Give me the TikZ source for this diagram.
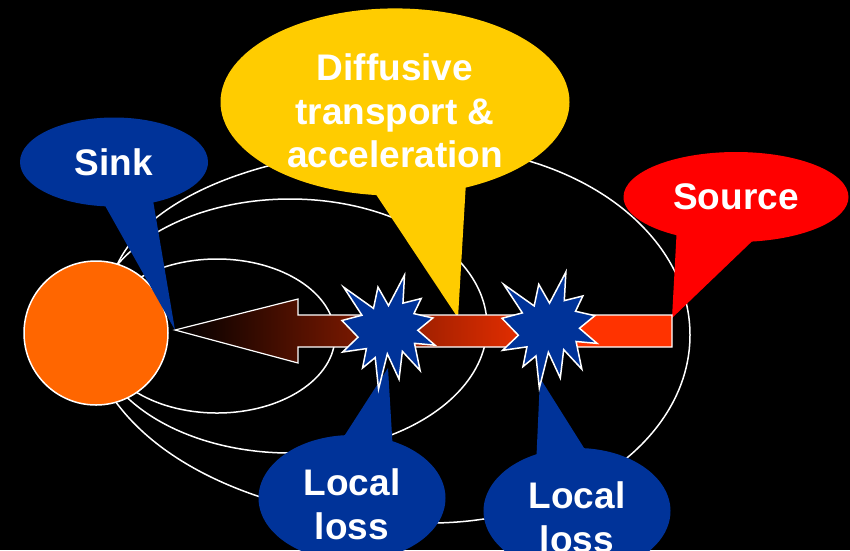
\documentclass[tikz,border=0pt]{standalone}
\usepackage{fontspec}
\setmainfont{Liberation Sans}
\definecolor{slideblue}{RGB}{0,51,153}
\definecolor{slideyellow}{RGB}{255,204,0}
\definecolor{slidered}{RGB}{255,0,0}
\definecolor{planetorange}{RGB}{255,102,0}
\definecolor{beamred}{RGB}{255,51,0}
\usetikzlibrary{shapes,shapes.callouts,calc}
\pgfdeclarehorizontalshading{beam}{100bp}{color(0bp)=(black); color(25bp)=(black); color(64bp)=(beamred); color(100bp)=(beamred)}

% explosion outline on a 216 x 216 grid, y running down
\tikzset{
    pics/explosion/.style={code={
        \draw[fill=slideblue, draw=white, line width=1.5pt]
            (108,58) -- (145.22,0) -- (141.55,53.25) -- (183.80,44.57) -- (167.02,73.15)
            -- (210.97,81.37) -- (176.07,104.75) -- (216,132.90) -- (168.37,129.42)
            -- (181.45,180.95) -- (140.20,144.57) -- (132.47,197.37) -- (105.32,149.35)
            -- (84.85,216) -- (77.15,156.27) -- (47.62,176.17) -- (56.67,139.37)
            -- (1.35,145.87) -- (37.22,117.75) -- (0,86.15) -- (46.27,76.17)
            -- (3.70,22.95) -- (73.12,63.20) -- (83.52,22.95) -- cycle;
    }}
}

\begin{document}
\begin{tikzpicture}[x=1pt, y=-1pt,
    fieldline/.style={draw=white, line width=1.5pt},
    bubble/.style={ellipse callout, inner sep=0pt, text=white, align=center, font=\bfseries\fontsize{37}{43.5}\selectfont}
]
    \useasboundingbox (0,0) rectangle (850,550);
    \fill[black] (0,0) rectangle (850,550);
    \clip (0,0) rectangle (850,550);

    % field lines
    \draw[fieldline] (217,336) ellipse [x radius=118, y radius=77];
    \draw[fieldline] (290,326) ellipse [x radius=197, y radius=127];
    \draw[fieldline] (115,270) .. controls (140,205) and (250,147) .. (430,147)
        .. controls (574,147) and (690,231) .. (690,335)
        .. controls (690,439) and (574,523) .. (430,523)
        .. controls (300,523) and (170,480) .. (113,398);

    \node[circle, fill=planetorange, draw=white, line width=1.5pt, minimum size=144pt, inner sep=0pt] (planet) at (96,333) {};

    \coordinate (beamtip) at (175,330);
    \coordinate (beamtop) at (458,318);
    \coordinate (beamend) at (672,318);
    \coordinate (burstA) at (342,275);
    \coordinate (burstB) at (502,272);

    % callouts
    \node[bubble, fill=slideblue, minimum width=188pt, minimum height=89pt,
        callout absolute pointer={(beamtip)}, callout pointer arc=30] (sink) at (114,162) {Sink};
    \node[bubble, fill=slideyellow, minimum width=349pt, minimum height=186pt,
        callout absolute pointer={(beamtop)}, callout pointer arc=30] (diffusion) at (395,102)
        {\rule{0pt}{45pt}Diffusive\\transport \&\\acceleration};
    \node[bubble, fill=slidered, minimum width=225pt, minimum height=90pt,
        callout absolute pointer={(beamend)}, callout pointer arc=40] (source) at (736,197) {Source};
    \node[bubble, fill=slideblue, minimum width=187pt, minimum height=126pt,
        callout absolute pointer={($(burstA)+(46,93)$)}, callout pointer arc=30] (lossleft) at (352,498)
        {\rule{0pt}{39pt}Local\\loss};
    \node[bubble, fill=slideblue, minimum width=187pt, minimum height=126pt,
        callout absolute pointer={($(burstB)+(38,106)$)}, callout pointer arc=30] (lossright) at (577,511)
        {\rule{0pt}{39pt}Local\\loss};

    % transport arrow
    \draw[draw=white, line width=1.2pt, shading=beam] (beamtip) -- (298,299) -- (298,315) -- (672,315)
        -- (672,347) -- (298,347) -- (298,363) -- cycle;

    \path (burstA) pic[x=0.4306pt, y=-0.528pt] (burstleft) {explosion};
    \path (burstB) pic[x=0.44pt, y=-0.537pt] (burstright) {explosion};
\end{tikzpicture}
\end{document}
